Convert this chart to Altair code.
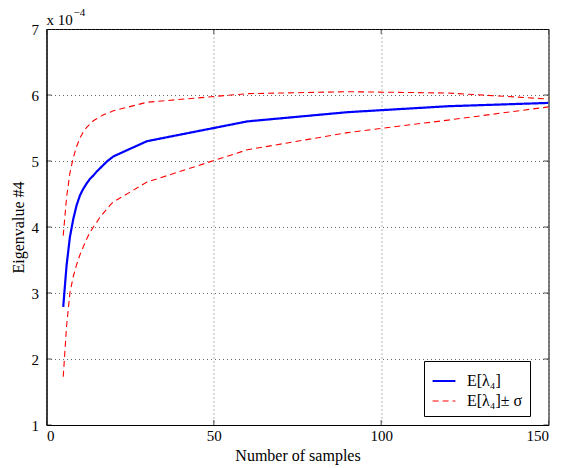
import altair as alt
import pandas as pd

# Values in units of 1e-4
x_samples = [5, 6, 7, 8, 9, 10, 11, 12, 13, 14, 15, 16, 17, 18, 19, 20, 30, 60, 90, 120, 150]
mean_vals = [2.79, 3.42, 3.85, 4.12, 4.33, 4.48, 4.58, 4.66, 4.73, 4.78, 4.84, 4.89, 4.94, 4.99, 5.03, 5.07,
             5.30, 5.60, 5.74, 5.83, 5.88]
upper_vals = [3.87, 4.45, 4.82, 5.05, 5.22, 5.35, 5.44, 5.51, 5.56, 5.61, 5.64, 5.67, 5.70, 5.72, 5.74, 5.76,
              5.89, 6.02, 6.05, 6.03, 5.94]
lower_vals = [1.73, 2.50, 3.00, 3.25, 3.43, 3.58, 3.70, 3.82, 3.92, 4.00, 4.07, 4.15, 4.21, 4.27, 4.33, 4.38,
              4.68, 5.17, 5.43, 5.62, 5.82]
x_ticks = [0, 50, 100, 150]
y_ticks = [1, 2, 3, 4, 5, 6, 7]
label_mean = "E[λ₄]"
label_sigma = "E[λ₄]± σ"
series_order = [label_mean, label_sigma]

rows = []
for name, lab, vals in [("mean", label_mean, mean_vals), ("upper", label_sigma, upper_vals),
                        ("lower", label_sigma, lower_vals)]:
    for xv, yv in zip(x_samples, vals):
        rows.append({"x": xv, "y": yv, "series": lab, "line": name})
df = pd.DataFrame(rows)

FONT = "Liberation Serif"
W, H = 502, 396

xscale = alt.Scale(domain=[0, 150], nice=False, zero=False)
yscale = alt.Scale(domain=[1, 7], nice=False, zero=False)

axis_common = dict(
    ticks=False, format="d",
    domainColor="black", domainWidth=1,
    labelFont=FONT, labelFontSize=15, labelColor="black",
    titleFont=FONT, titleFontSize=16, titleColor="black", titleFontWeight="normal",
    grid=True, gridColor="#444444", gridDash=[1, 3], gridWidth=1, gridOpacity=0.8,
)

leg = alt.Legend(title=None, orient="none", legendX=377.5, legendY=332,
                 symbolType="stroke", symbolSize=520, strokeColor="black",
                 fillColor="white", padding=7, labelFont=FONT, labelFontSize=16,
                 labelColor="black", rowPadding=0, labelOffset=10)

lines = alt.Chart(df).mark_line(clip=True).encode(
    x=alt.X("x:Q", scale=xscale,
            axis=alt.Axis(values=x_ticks, title="Number of samples",
                          labelPadding=3, titlePadding=4, **axis_common)),
    y=alt.Y("y:Q", scale=yscale,
            axis=alt.Axis(values=y_ticks, title="Eigenvalue #4",
                          labelPadding=8, titlePadding=5, **axis_common)),
    color=alt.Color("series:N", scale=alt.Scale(domain=series_order, range=["#0000ff", "#ff0000"]),
                    legend=leg),
    strokeDash=alt.StrokeDash("series:N", scale=alt.Scale(domain=series_order, range=[[1, 0], [6, 4]]),
                              legend=leg),
    strokeWidth=alt.StrokeWidth("series:N", scale=alt.Scale(domain=series_order, range=[2.2, 1.1]),
                                legend=leg),
    detail="line:N",
    order="x:Q",
)

xt = pd.DataFrame({"x": x_ticks})
yt = pd.DataFrame({"y": y_ticks})
tick_bottom = alt.Chart(xt).mark_tick(clip=True, color="black", size=10, thickness=1).encode(
    x=alt.X("x:Q", scale=xscale), y=alt.value(H))
tick_top = alt.Chart(xt).mark_tick(clip=True, color="black", size=10, thickness=1).encode(
    x=alt.X("x:Q", scale=xscale), y=alt.value(0))
tick_left = alt.Chart(yt).mark_tick(clip=True, color="black", size=10, thickness=1).encode(
    y=alt.Y("y:Q", scale=yscale), x=alt.value(0))
tick_right = alt.Chart(yt).mark_tick(clip=True, color="black", size=10, thickness=1).encode(
    y=alt.Y("y:Q", scale=yscale), x=alt.value(W))

exp_base = alt.Chart(pd.DataFrame({"t": ["x 10"]})).mark_text(
    align="left", baseline="alphabetic", font=FONT, fontSize=15, color="black").encode(
    x=alt.value(0), y=alt.value(-4), text="t:N")
exp_sup = alt.Chart(pd.DataFrame({"t": ["−4"]})).mark_text(
    align="left", baseline="alphabetic", font=FONT, fontSize=11, color="black").encode(
    x=alt.value(27), y=alt.value(-13), text="t:N")

chart = alt.layer(lines, tick_bottom, tick_top, tick_left, tick_right, exp_base, exp_sup).properties(
    width=W, height=H,
    autosize=alt.AutoSizeParams(type="none"),
    padding={"left": 46.5, "top": 29, "right": 15.5, "bottom": 43},
    background="white",
).configure_view(
    stroke="black", strokeWidth=1
)

chart.save("out.html", embed_options={"renderer": "svg", "actions": False})
